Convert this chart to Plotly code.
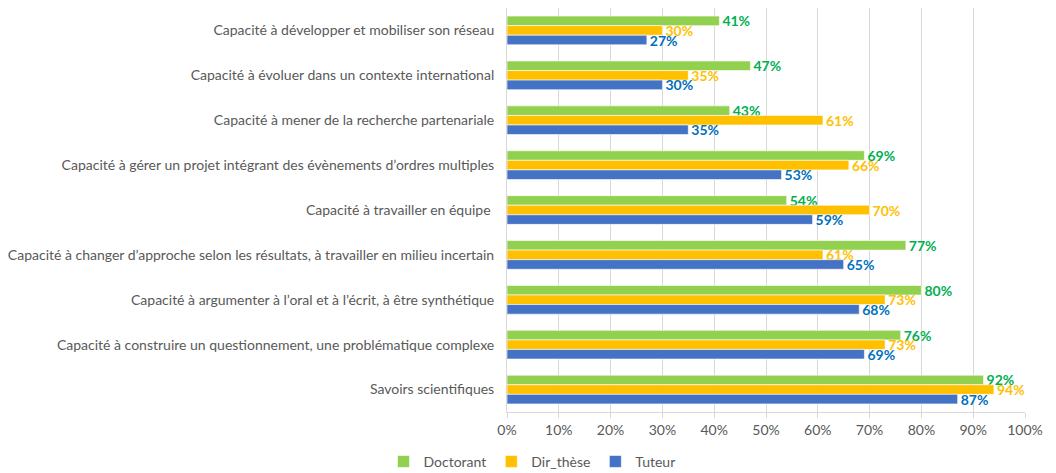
import plotly.graph_objects as go

categories = [
    "Capacité à développer et mobiliser son réseau",
    "Capacité à évoluer dans un contexte international",
    "Capacité à mener de la recherche partenariale",
    "Capacité à gérer un projet intégrant des évènements d’ordres multiples",
    "Capacité à travailler en équipe ",
    "Capacité à changer d’approche selon les résultats, à travailler en milieu incertain",
    "Capacité à argumenter à l’oral et à l’écrit, à être synthétique",
    "Capacité à construire un questionnement, une problématique complexe",
    "Savoirs scientifiques",
]
doctorant = [41, 47, 43, 69, 54, 77, 80, 76, 92]
dir_these = [30, 35, 61, 66, 70, 61, 73, 73, 94]
tuteur = [27, 30, 35, 53, 59, 65, 68, 69, 87]

series = [
    ("Doctorant", doctorant, "#92D050", "#00B050"),
    ("Dir_thèse", dir_these, "#FFC000", "#FFC000"),
    ("Tuteur", tuteur, "#4472C4", "#0070C0"),
]

fig = go.Figure()
for name, vals, col, tcol in series:
    fig.add_trace(go.Bar(
        name=name,
        y=categories,
        x=[v / 100 for v in vals],
        orientation="h",
        marker=dict(color=col, line=dict(color="white", width=0.6)),
        text=[f"{v}%" for v in vals],
        textposition="outside",
        textfont=dict(color=tcol, size=14, family="Lato", weight="bold"),
        constraintext="none",
        cliponaxis=False,
    ))

# the page body has an 8px default margin, so the figure is sized to fit inside it
fig.update_layout(
    width=1048,
    height=465,
    barmode="group",
    bargap=0.36,
    bargroupgap=0,
    plot_bgcolor="white",
    paper_bgcolor="white",
    margin=dict(l=499, r=31, t=0, b=61),
    font=dict(family="Lato", color="#595959", size=14),
    legend=dict(
        orientation="h",
        xref="container",
        x=0.5, xanchor="center",
        yref="container",
        y=0.024, yanchor="middle",
        font=dict(size=14, color="#595959"),
        itemwidth=30,
        tracegroupgap=0,
    ),
    xaxis=dict(
        range=[0, 1],
        tickformat=".0%",
        dtick=0.1,
        showgrid=True,
        gridcolor="#D9D9D9",
        gridwidth=1,
        zeroline=False,
        showline=True,
        linecolor="#D9D9D9",
        ticks="outside",
        tickcolor="#D9D9D9",
        ticklen=5,
        tickfont=dict(size=14, color="#595959"),
    ),
    yaxis=dict(
        autorange="reversed",
        showline=True,
        linecolor="#D9D9D9",
        ticks="",
        ticklabelstandoff=9,
        tickfont=dict(size=14, color="#595959"),
    ),
)

fig.write_html("out.html")
